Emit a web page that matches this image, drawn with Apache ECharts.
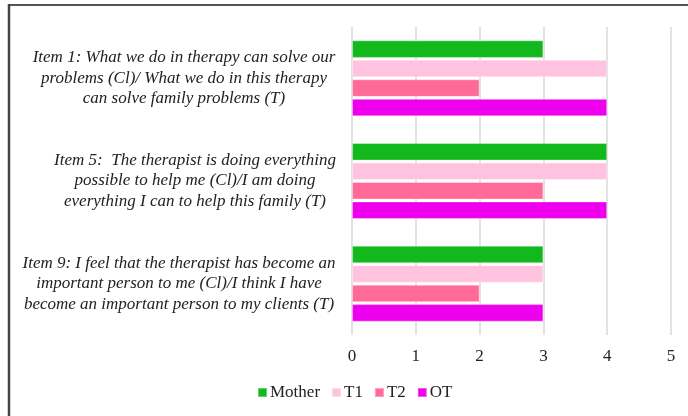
<!DOCTYPE html>
<html>
<head>
<meta charset="utf-8">
<script src="https://cdn.jsdelivr.net/npm/echarts@6/dist/echarts.min.js"></script>
<style>html,body{margin:0;padding:0;background:#fff;}#c{width:688px;height:416px;}</style>
</head>
<body>
<div id="c"></div>
<script>
var categories = [
  "Item 1: What we do in therapy can solve our\nproblems (Cl)/ What we do in this therapy\ncan solve family problems (T)",
  "Item 5:  The therapist is doing everything\npossible to help me (Cl)/I am doing\neverything I can to help this family (T)",
  "Item 9: I feel that the therapist has become an\nimportant person to me (Cl)/I think I have\nbecome an important person to my clients (T)"
];
var seriesNames = ["Mother", "T1", "T2", "OT"];
var motherValues = [3, 4, 3];
var t1Values = [4, 4, 3];
var t2Values = [2, 3, 2];
var otValues = [4, 4, 3];
var xTicks = [0, 1, 2, 3, 4, 5];

var colors = ["#12b81c", "#ffc3df", "#ff6a98", "#ee00ee"];
var serifFont = "'Liberation Serif', 'Times New Roman', serif";
var labelWidths = [306, 284, 316];

var rich = {};
labelWidths.forEach(function (w, i) {
  rich["l" + i] = {
    width: w, align: "center", fontFamily: serifFont, fontStyle: "italic",
    fontSize: 17, lineHeight: 20.5, color: "#222"
  };
});

var chart = echarts.init(document.getElementById("c"));
var data = [motherValues, t1Values, t2Values, otValues];
chart.setOption({
  animation: false,
  backgroundColor: "#fff",
  color: colors,
  grid: { left: 352, right: 17, top: 27, bottom: 81, containLabel: false },
  legend: {
    data: seriesNames,
    left: 257, top: 384, padding: 0,
    icon: "rect", itemWidth: 9, itemHeight: 9, itemGap: 11,
    textStyle: { fontFamily: serifFont, fontSize: 17, color: "#222", padding: [0, 0, 0, -2] }
  },
  xAxis: {
    type: "value", min: xTicks[0], max: xTicks[xTicks.length - 1], interval: 1,
    axisLine: { show: false }, axisTick: { show: false },
    splitLine: { show: true, lineStyle: { color: "#d9d9d9", width: 1.5 } },
    axisLabel: { fontFamily: serifFont, fontSize: 17, color: "#222", margin: 13 }
  },
  yAxis: {
    type: "category", data: categories, inverse: true,
    axisLine: { show: false }, axisTick: { show: false },
    axisLabel: {
      margin: 15,
      formatter: function (v, idx) {
        return v.split("\n").map(function (line) { return "{l" + idx + "|" + line + "}"; }).join("\n");
      },
      rich: rich
    }
  },
  graphic: [
    { type: "line", shape: { x1: 9, y1: 5, x2: 688, y2: 5 }, style: { stroke: "#555", lineWidth: 2 } },
    { type: "line", shape: { x1: 9, y1: 4, x2: 9, y2: 416 }, style: { stroke: "#444", lineWidth: 2.5 } }
  ],
  series: seriesNames.map(function (n, i) {
    return {
      name: n, type: "bar", data: data[i],
      barCategoryGap: "26%", barGap: "11%",
      itemStyle: { borderColor: "rgba(255,255,255,0.35)", borderWidth: 1 }
    };
  })
});
</script>
</body>
</html>
